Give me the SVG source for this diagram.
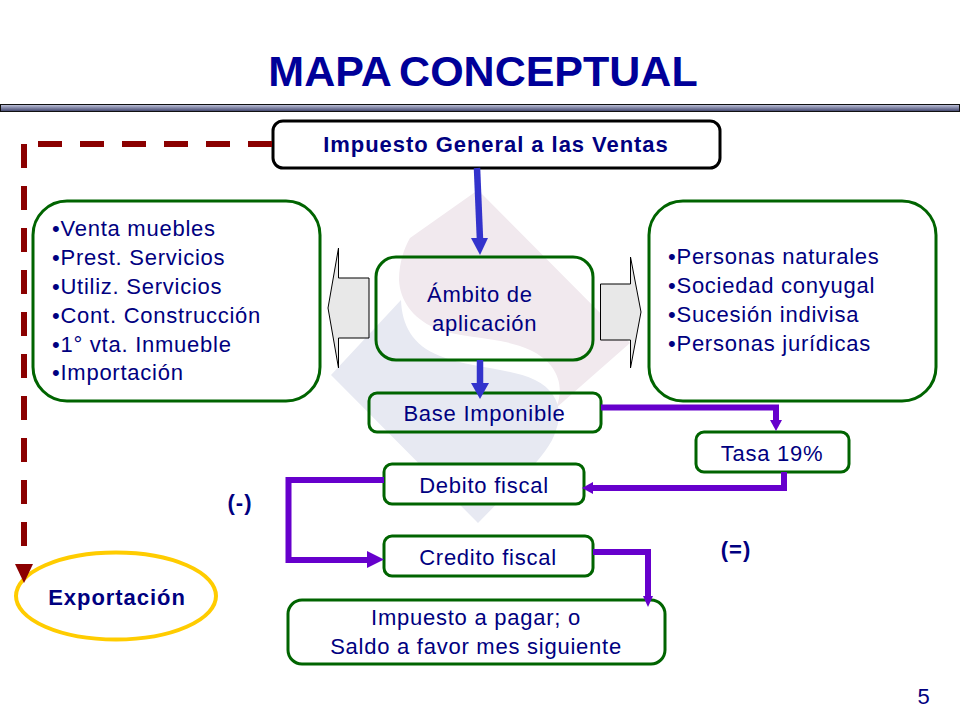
<svg xmlns="http://www.w3.org/2000/svg" width="960" height="720" viewBox="0 0 960 720">
<style>
text{font-family:"Liberation Sans",Arial,sans-serif;fill:#000080;font-size:22px;letter-spacing:.75px}
.c{text-anchor:middle}
.b{font-weight:bold;letter-spacing:.95px}
.g{fill:#fff;stroke:#006400;stroke-width:3}
.gt{fill:none;stroke:#006400;stroke-width:3}
.v{fill:none;stroke:#6600cc;stroke-width:6}
.vh{fill:#6600cc}
.bl{fill:none;stroke:#3333cc;stroke-width:6.5}
.blh{fill:#3333cc}
.ar{fill:#e8e8e8;stroke:#000;stroke-width:1}
</style>
<defs>
<linearGradient id="bar" x1="0" y1="0" x2="0" y2="1"><stop offset="0" stop-color="#c4c8e0"/><stop offset="1" stop-color="#3c4068"/></linearGradient>
</defs>
<rect width="960" height="720" fill="#fff"/>
<g id="watermark">
<path d="M478 190L630 343L556 408C566 385 556 362 530 350C500 336 465 340 435 328C412 318 400 300 399 280C399 265 403 250 410 238Z" fill="#f1e9ee"/>
<path d="M331 375L401 300C402 325 412 345 440 356C470 368 510 368 535 380C556 390 564 410 556 430C552 445 540 458 525 475L478 523Z" fill="#e7e9f2"/>
</g>
<g id="title">
<text x="483" y="86" class="c b" style="font-size:43px;letter-spacing:0;word-spacing:-3px;fill:#000099">MAPA CONCEPTUAL</text>
<rect x="0.500" y="104.500" width="959" height="7" fill="url(#bar)" stroke="#111" stroke-width="1"/>
</g>
<g id="arrow-left"><path d="M369 278H338.500V248L328 308L338.500 368V338H369Z" class="ar"/></g>
<g id="arrow-right"><path d="M600.500 284H630.500V257L641 312L630.500 368V340H600.500Z" class="ar"/></g>
<g id="impuesto"><rect x="273" y="121" width="447" height="47" rx="10" fill="#fff" stroke="#000" stroke-width="3"/><text x="496" y="152" class="c b">Impuesto General a las Ventas</text></g>
<g id="venta"><rect x="33" y="201" width="287" height="200" rx="34" class="g"/>
<text x="52" y="236">•Venta muebles</text><text x="52" y="265">•Prest. Servicios</text><text x="52" y="294">•Utiliz. Servicios</text><text x="52" y="323">•Cont. Construcción</text><text x="52" y="352">•1° vta. Inmueble</text><text x="52" y="380">•Importación</text></g>
<g id="personas"><rect x="649" y="201" width="287" height="200" rx="34" class="g"/>
<text x="668" y="264">•Personas naturales</text><text x="668" y="293">•Sociedad conyugal</text><text x="668" y="322">•Sucesión indivisa</text><text x="668" y="351">•Personas jurídicas</text></g>
<g id="ambito"><rect x="376" y="257" width="217" height="103" rx="20" class="gt"/><text x="427" y="302">Ámbito de</text><text x="432" y="331">aplicación</text></g>
<g id="base"><rect x="369" y="393" width="232" height="39" rx="8" class="gt"/><text x="484.500" y="421" class="c">Base Imponible</text></g>
<g id="tasa"><rect x="696" y="432" width="153" height="40" rx="8" class="g"/><text x="772" y="461" class="c">Tasa 19%</text></g>
<g id="debito"><rect x="384" y="464" width="200" height="40" rx="8" class="g"/><text x="484" y="493" class="c">Debito fiscal</text></g>
<g id="credito"><rect x="384" y="536" width="209" height="40" rx="8" class="g"/><text x="488" y="565" class="c">Credito fiscal</text></g>
<g id="impuesto-pagar"><rect x="288" y="600" width="377" height="64" rx="14" class="g"/><text x="476" y="625" class="c">Impuesto a pagar; o</text><text x="476" y="654" class="c">Saldo a favor mes siguiente</text></g>
<g id="exportacion"><ellipse cx="116" cy="596" rx="100" ry="43.500" fill="#fff" stroke="#ffcc00" stroke-width="4"/><text x="117" y="605" class="c b">Exportación</text></g>
<g id="labels"><text x="240" y="510" class="c b">(-)</text><text x="736" y="557" class="c b">(=)</text><text x="924" y="704" class="c">5</text></g>
<g id="connectors">
<path d="M272 144H38" fill="none" stroke="#8b0000" stroke-width="6" stroke-dasharray="24 18"/>
<path d="M24 144V546" fill="none" stroke="#8b0000" stroke-width="6" stroke-dasharray="24 18"/>
<path d="M15 564H33L24 583Z" fill="#8b0000"/>
<path d="M477 168L480 240" class="bl"/>
<path d="M471 238H488L480 255Z" class="blh"/>
<path d="M480 360V385" class="bl"/>
<path d="M471 383H489L480 399Z" class="blh"/>
<path d="M601 407.500H776V422" class="v"/>
<path d="M770 420H782L776 431Z" class="vh"/>
<path d="M784 472V488H592" class="v"/>
<path d="M593 482V494L582 488Z" class="vh"/>
<path d="M384 480H288.500V560H368" class="v"/>
<path d="M367 551V568L384 559.500Z" class="vh"/>
<path d="M593 552H648V598" class="v"/>
<path d="M643 596H653L648 607Z" class="vh"/>
</g>
</svg>
